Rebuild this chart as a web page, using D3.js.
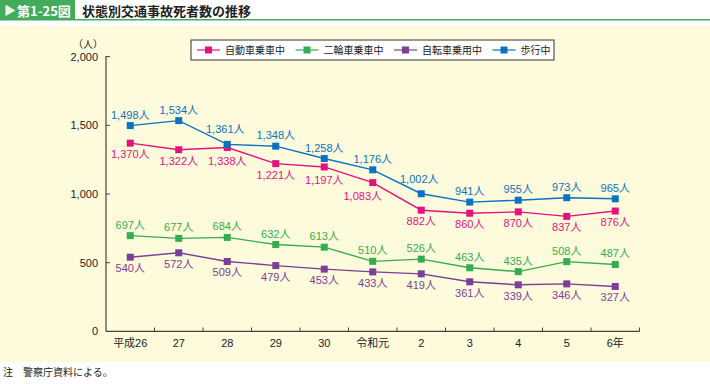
<!DOCTYPE html>
<html>
<head>
<meta charset="utf-8">
<script src="https://cdn.jsdelivr.net/npm/d3@7"></script>
<style>
  body { margin: 0; background: #fff; }
  svg { display: block; font-family: "Liberation Sans", "Noto Sans CJK JP", sans-serif; }
</style>
</head>
<body>
<svg width="710" height="384"></svg>
<script>
// 年（x軸）
const years = ["平成26", "27", "28", "29", "30", "令和元", "2", "3", "4", "5", "6年"];
const yTicks = [0, 500, 1000, 1500, 2000];

// 状態別の死者数
const jidosha = [1370, 1322, 1338, 1221, 1197, 1083, 882, 860, 870, 837, 876];
const nirin = [697, 677, 684, 632, 613, 510, 526, 463, 435, 508, 487];
const jitensha = [540, 572, 509, 479, 453, 433, 419, 361, 339, 346, 327];
const hoko = [1498, 1534, 1361, 1348, 1258, 1176, 1002, 941, 955, 973, 965];

const seriesNames = ["自動車乗車中", "二輪車乗車中", "自転車乗用中", "歩行中"];

const series = [
  { name: seriesNames[0], values: jidosha, color: "#e2127f", pos: "below" },
  { name: seriesNames[1], values: nirin, color: "#33ad4f", pos: "above" },
  { name: seriesNames[2], values: jitensha, color: "#7b3f98", pos: "below" },
  { name: seriesNames[3], values: hoko, color: "#0a72c2", pos: "above" }
];

const svg = d3.select("svg");

// 背景
svg.append("rect").attr("x", 0).attr("y", 26).attr("width", 710).attr("height", 336)
  .attr("fill", "#fefbdc");

// タイトル
svg.append("rect").attr("x", 0).attr("y", 0).attr("width", 75).attr("height", 20).attr("fill", "#43ab5c");
svg.append("rect").attr("x", 0).attr("y", 19).attr("width", 710).attr("height", 1.5).attr("fill", "#43ab5c");
svg.append("text").attr("x", 4).attr("y", 15).attr("fill", "#e8f5ea").attr("font-size", 12).text("▶");
svg.append("text").attr("x", 17).attr("y", 15.5).attr("fill", "#fff").attr("font-size", 13)
  .attr("font-weight", "bold").attr("font-family", "Noto Sans CJK JP").text("第1-25図");
svg.append("text").attr("x", 82).attr("y", 15.5).attr("fill", "#222").attr("font-size", 13)
  .attr("font-weight", "bold").attr("font-family", "Noto Sans CJK JP").text("状態別交通事故死者数の推移");

// 脚注
svg.append("text").attr("x", 3).attr("y", 376).attr("font-size", 10).attr("fill", "#222")
  .attr("font-family", "Noto Sans CJK JP").text("注　警察庁資料による。");

// スケール
const x = d3.scaleBand().domain(years).range([106, 639.5]);
const y = d3.scaleLinear().domain([0, 2000]).range([331.4, 56.6]);
const cx = d => x(d) + x.bandwidth() / 2;

// 軸
const xAxis = svg.append("g").attr("transform", "translate(0,331.4)")
  .call(d3.axisBottom(x).tickSize(0).tickFormat(d => d));
xAxis.select(".domain").remove();
xAxis.selectAll("text").attr("font-size", 11).attr("fill", "#222").attr("dy", "1.15em")
  .attr("font-family", "Liberation Sans, Noto Sans CJK JP");

const yAxis = svg.append("g").attr("transform", "translate(106,0)")
  .call(d3.axisLeft(y).tickValues(yTicks).tickSize(0).tickPadding(8).tickFormat(d3.format(",")));
yAxis.select(".domain").remove();
yAxis.selectAll("text").attr("font-size", 11).attr("fill", "#222");

const axisColor = "#444";
svg.append("line").attr("x1", 106).attr("x2", 106).attr("y1", 56).attr("y2", 331.4)
  .attr("stroke", axisColor).attr("stroke-width", 1.2);
svg.append("line").attr("x1", 106).attr("x2", 639.5).attr("y1", 331.4).attr("y2", 331.4)
  .attr("stroke", axisColor).attr("stroke-width", 1.2);
svg.selectAll(".ytick").data(yTicks.filter(d => d > 0)).enter().append("line")
  .attr("x1", 106).attr("x2", 110).attr("y1", d => y(d)).attr("y2", d => y(d))
  .attr("stroke", axisColor);
svg.selectAll(".xtick").data(years).enter().append("line")
  .attr("x1", d => x(d) + x.bandwidth()).attr("x2", d => x(d) + x.bandwidth())
  .attr("y1", 331.4).attr("y2", 327.5).attr("stroke", axisColor);

svg.append("text").attr("x", 73).attr("y", 48).attr("font-size", 10).attr("fill", "#222")
  .attr("font-family", "Noto Sans CJK JP").text("（人）");

// 折れ線
const line = d3.line().x((d, i) => cx(years[i])).y(d => y(d));
const fmt = d3.format(",");

// 線と重なるラベルの微調整（系列番号-年番号）
const nudge = { "3-2": [-2, -4], "3-6": [-2, -4], "0-5": [-10, 2], "0-2": [0, 2], "0-4": [0, 2] };

series.forEach((s, si) => {
  const g = svg.append("g");
  g.append("path").attr("d", line(s.values)).attr("fill", "none")
    .attr("stroke", s.color).attr("stroke-width", 1.4);
  g.selectAll("rect").data(s.values).enter().append("rect")
    .attr("x", (d, i) => cx(years[i]) - 3.5).attr("y", d => y(d) - 3.5)
    .attr("width", 7).attr("height", 7).attr("fill", s.color);
  g.selectAll("text").data(s.values).enter().append("text")
    .attr("x", (d, i) => cx(years[i]) + (nudge[si + "-" + i] || [0, 0])[0])
    .attr("y", (d, i) => (s.pos === "above" ? y(d) - 7 : y(d) + 15) + (nudge[si + "-" + i] || [0, 0])[1])
    .attr("text-anchor", "middle").attr("font-size", 11).attr("fill", s.color)
    .text(d => fmt(d) + "人");
});

// 凡例
const lg = svg.append("g");
lg.append("rect").attr("x", 191).attr("y", 40).attr("width", 363).attr("height", 20)
  .attr("fill", "#fff").attr("stroke", "#333").attr("stroke-width", 1);
series.forEach((s, i) => {
  const lx = 197 + i * 98.5;
  lg.append("line").attr("x1", lx).attr("x2", lx + 23).attr("y1", 50).attr("y2", 50)
    .attr("stroke", s.color).attr("stroke-width", 1.2);
  lg.append("rect").attr("x", lx + 8).attr("y", 46.5).attr("width", 7).attr("height", 7).attr("fill", s.color);
  lg.append("text").attr("x", lx + 28).attr("y", 53.5).attr("font-size", 10).attr("fill", "#222")
    .attr("font-family", "Noto Sans CJK JP").text(s.name);
});
</script>
</body>
</html>
